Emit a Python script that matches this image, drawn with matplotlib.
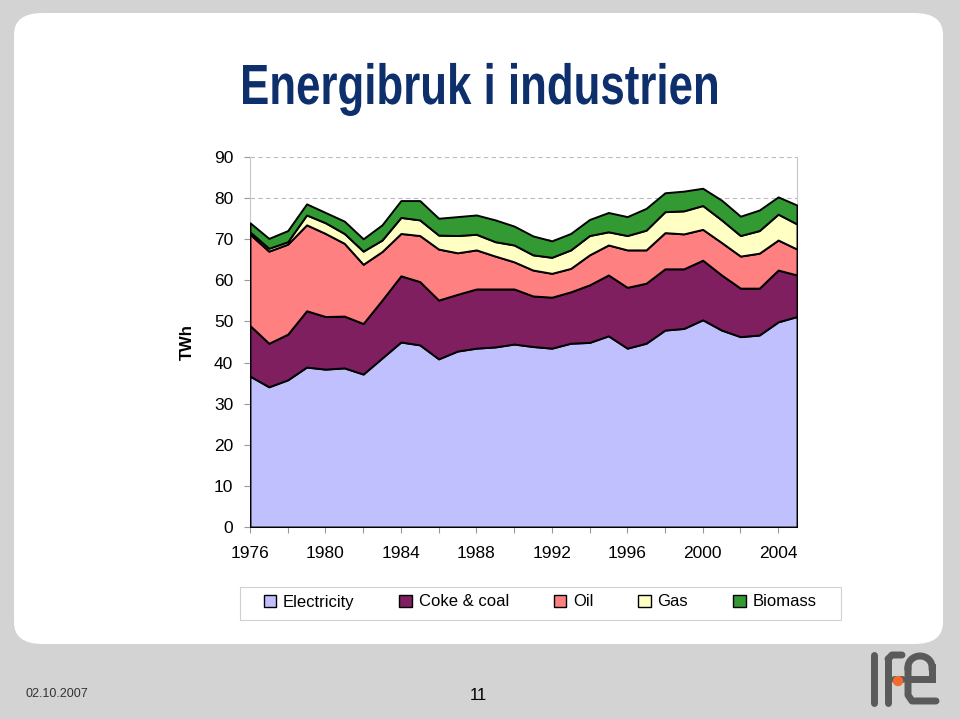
import matplotlib.pyplot as plt
from matplotlib.patches import FancyBboxPatch, Patch, Circle, PathPatch, Rectangle
from matplotlib.textpath import TextPath
from matplotlib.font_manager import FontProperties
from matplotlib.transforms import Affine2D, IdentityTransform
import numpy as np

# data (TWh)
years = list(range(1976, 2006))
electricity = [36.7, 34.1, 35.8, 38.9, 38.4, 38.7, 37.2, 41.1, 45.0, 44.3,
               40.9, 42.8, 43.5, 43.8, 44.5, 43.9, 43.5, 44.7, 44.9, 46.5,
               43.5, 44.7, 47.9, 48.3, 50.4, 47.9, 46.3, 46.7, 49.9, 51.2]
coke_coal = [12.3, 10.6, 11.1, 13.7, 12.8, 12.6, 12.3, 14.1, 16.1, 15.4,
             14.3, 13.8, 14.4, 14.1, 13.4, 12.3, 12.4, 12.5, 14.0, 14.8,
             14.8, 14.6, 14.9, 14.5, 14.5, 13.4, 11.8, 11.4, 12.6, 10.1]
oil = [22.2, 22.4, 21.9, 20.9, 20.2, 17.7, 14.4, 11.8, 10.3, 11.2,
       12.4, 10.1, 9.5, 8.0, 6.6, 6.3, 5.8, 5.7, 7.3, 7.3,
       9.1, 8.1, 8.8, 8.5, 7.5, 7.9, 7.8, 8.5, 7.3, 6.3]
gas = [0.6, 0.7, 0.6, 2.4, 2.6, 2.4, 3.2, 2.8, 3.9, 3.8,
       3.4, 4.2, 3.8, 3.5, 4.1, 3.7, 3.9, 4.5, 4.7, 3.2,
       3.5, 4.8, 5.1, 5.6, 5.8, 5.5, 5.0, 5.5, 6.3, 6.1]
biomass = [2.2, 2.4, 2.7, 2.7, 2.5, 3.0, 3.0, 3.7, 4.1, 4.7,
           4.1, 4.6, 4.7, 5.3, 4.6, 4.6, 4.0, 4.0, 3.9, 4.7,
           4.6, 5.3, 4.6, 4.8, 4.2, 4.8, 4.7, 5.0, 4.2, 4.6]

labels = ['Electricity', 'Coke & coal', 'Oil', 'Gas', 'Biomass']
colors = ['#c0c0ff', '#7f1f5f', '#ff8080', '#ffffc4', '#339933']

plt.rcParams['font.family'] = ['Liberation Sans', 'DejaVu Sans']

W, H = 960, 719
fig = plt.figure(figsize=(9.6, 7.19), dpi=100)
fig.patch.set_facecolor('#d3d3d3')

# white slide panel
panel = FancyBboxPatch((14 / W, 1 - 644 / H), 929 / W, 631 / H,
                       boxstyle='round,pad=0,rounding_size=0.03',
                       transform=fig.transFigure, facecolor='white',
                       edgecolor='none', zorder=-5)
fig.patches.append(panel)

# title, squeezed horizontally to look like a narrow bold face
title = 'Energibruk i industrien'
fp = FontProperties(family='Liberation Sans', weight='bold')
tp = TextPath((0, 0), title, size=100, prop=fp)
cap = TextPath((0, 0), 'E', size=100, prop=fp).get_extents()
ext = tp.get_extents()
sy = 39 / cap.height
sx = 474 / ext.width
tr = Affine2D().translate(-ext.x0, 0).scale(sx, sy).translate(243, H - 104)
fig.patches.append(PathPatch(tr.transform_path(tp), transform=IdentityTransform(),
                             facecolor='#0d2f6b', edgecolor='none', zorder=2))

ax = fig.add_axes([250 / W, 1 - 527 / H, 547 / W, 370 / H])
ax.set_facecolor('none')

series = [electricity, coke_coal, oil, gas, biomass]
stack = np.vstack(series)
ax.stackplot(years, stack, colors=colors, edgecolor='black', linewidth=1.4,
             zorder=3)

ax.set_xlim(1976, 2005)
ax.set_ylim(0, 90)
ax.set_yticks(range(0, 91, 10))
ax.set_xticks(range(1976, 2005, 2))
ax.set_xticklabels([str(y) if (y - 1976) % 4 == 0 else '' for y in range(1976, 2005, 2)])
ax.tick_params(axis='both', labelsize=12.5, colors='#999999', labelcolor='black',
               length=4, width=0.8)
ax.tick_params(axis='x', pad=10)
ax.tick_params(axis='y', pad=8)

ax.yaxis.grid(True, color='#bbbbbb', linestyle=(0, (4, 3)), linewidth=0.8, zorder=1)
for side in ['left', 'right', 'top', 'bottom']:
    ax.spines[side].set_color('#c8c8c8')
    ax.spines[side].set_linewidth(0.8)
ax.spines['top'].set_visible(False)

ax.set_ylabel('TWh', fontsize=12, fontweight='bold', labelpad=14)

# legend, with its own wider frame
handles = [Patch(facecolor=c, edgecolor='black', linewidth=1.0) for c in colors]
leg = fig.legend(handles, labels, loc='center', ncol=5,
                 bbox_to_anchor=(540 / W, 1 - 602 / H), fontsize=12,
                 frameon=False, handlelength=0.75, handleheight=0.75,
                 handletextpad=0.4, columnspacing=2.7)
fig.patches.append(Rectangle((240 / W, 1 - 620 / H), 601 / W, 33 / H,
                             transform=fig.transFigure, facecolor='white',
                             edgecolor='#d0d0d0', linewidth=0.8, zorder=1))

# footer
fig.text(25 / W, 1 - 694 / H, '02.10.2007', fontsize=9, color='#333333',
         va='center', fontstretch='condensed')
fig.text(478 / W, 1 - 695 / H, '11', fontsize=12, color='black',
         ha='center', va='center')

# simple ife logo
logo = fig.add_axes([868 / W, 1 - 707 / H, 72 / W, 56 / H])
logo.set_xlim(0, 72)
logo.set_ylim(0, 56)
logo.axis('off')
g = '#5a5a5a'
logo.plot([6, 6], [4, 52], color=g, lw=5, solid_capstyle='round')
logo.plot([20, 20], [4, 48], color=g, lw=5, solid_capstyle='round')
logo.plot([20, 24, 34], [48, 52, 52], color=g, lw=5, solid_capstyle='round')
t = np.linspace(0, np.pi, 30)
logo.plot(52 + 12 * np.cos(t), 40 + 11 * np.sin(t), color=g, lw=5)
logo.plot([40, 40, 44, 68], [40, 12, 6, 6], color=g, lw=5, solid_capstyle='round')
logo.plot([64, 64], [40, 28], color=g, lw=5)
logo.plot([40, 64], [28, 28], color=g, lw=5)
logo.plot([26, 34], [28, 28], color=g, lw=5, solid_capstyle='round')
logo.add_patch(Circle((30, 26), 4.5, color='#f26a2e', zorder=5))

fig.savefig('out.png', dpi=100, facecolor=fig.get_facecolor())
